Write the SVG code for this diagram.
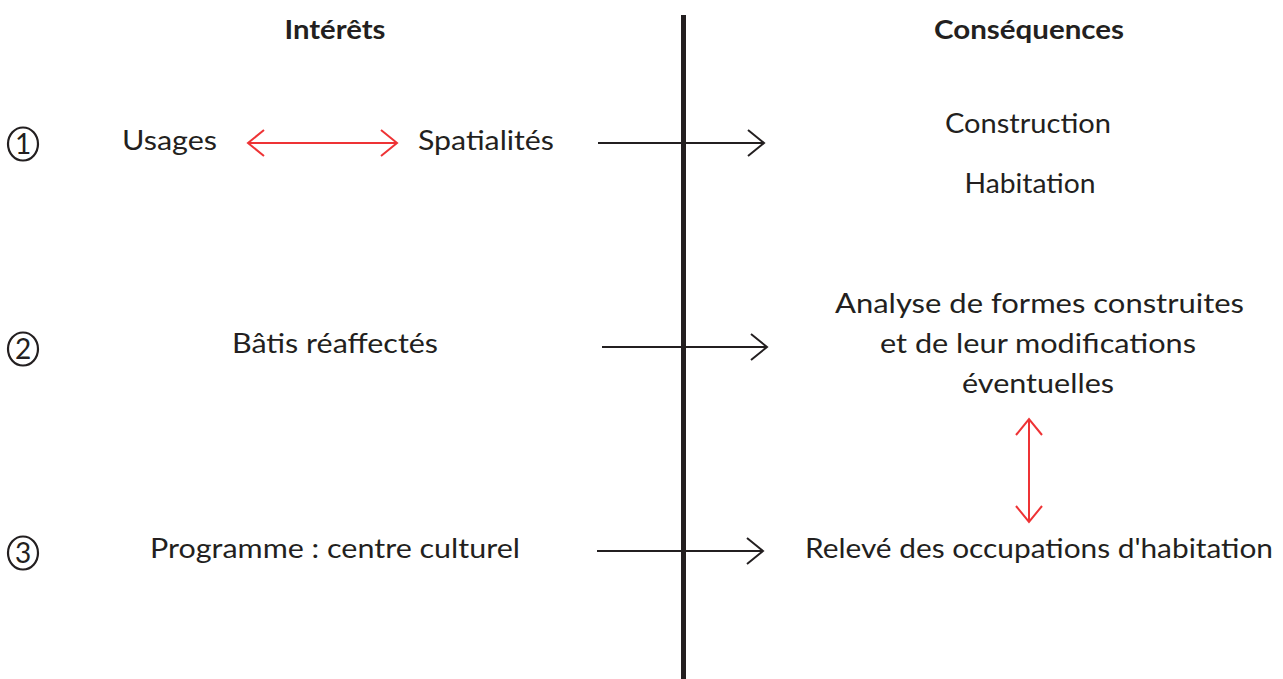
<svg xmlns="http://www.w3.org/2000/svg" width="1283" height="679" viewBox="0 0 1283 679">
<style>
text{font-family:Lato,"Open Sans","Liberation Sans",sans-serif;font-size:27px;fill:#231f20;}
.h{font-weight:bold;}
.m{text-anchor:middle;}
.blk{stroke:#231f20;stroke-width:2;fill:none;}
.red{stroke:#ee3335;stroke-width:2;fill:none;}
.num{stroke:#231f20;stroke-width:2.2;fill:none;}
.dg{font-size:28px;text-anchor:middle;}
</style>
<defs>
<marker id="ab" viewBox="0 0 20 30" refX="18" refY="15" markerWidth="20" markerHeight="30" markerUnits="userSpaceOnUse" orient="auto-start-reverse">
<polyline points="2,2 18,15 2,28" fill="none" stroke="#231f20" stroke-width="2"/>
</marker>
<marker id="ar" viewBox="0 0 20 30" refX="18" refY="15" markerWidth="20" markerHeight="30" markerUnits="userSpaceOnUse" orient="auto-start-reverse">
<polyline points="2,2 18,15 2,28" fill="none" stroke="#ee3335" stroke-width="2"/>
</marker>
</defs>
<rect width="1283" height="679" fill="#ffffff"/>
<g id="divider"><line x1="683.5" y1="15" x2="683.5" y2="679" stroke="#231f20" stroke-width="5"/></g>
<g id="headers">
<text class="h m" x="335" y="39" textLength="101" lengthAdjust="spacingAndGlyphs">Intérêts</text>
<text class="h m" x="1029" y="39" textLength="190" lengthAdjust="spacingAndGlyphs">Conséquences</text>
</g>
<g id="n1"><ellipse class="num" cx="23" cy="144" rx="15" ry="16.5"/><text class="dg" x="23" y="154">1</text></g>
<g id="n2"><ellipse class="num" cx="23" cy="349" rx="15" ry="16.5"/><text class="dg" x="23" y="359">2</text></g>
<g id="n3"><ellipse class="num" cx="23" cy="553" rx="15" ry="16.5"/><text class="dg" x="23" y="563">3</text></g>
<g id="usages"><text x="122" y="150" textLength="95" lengthAdjust="spacingAndGlyphs">Usages</text></g>
<g id="spatialites"><text x="418" y="150" textLength="136" lengthAdjust="spacingAndGlyphs">Spatialités</text></g>
<g id="construction"><text class="m" x="1028" y="133" textLength="166" lengthAdjust="spacingAndGlyphs">Construction</text></g>
<g id="habitation"><text class="m" x="1030" y="193" textLength="131" lengthAdjust="spacingAndGlyphs">Habitation</text></g>
<g id="batis"><text class="m" x="335" y="353" textLength="206" lengthAdjust="spacingAndGlyphs">Bâtis réaffectés</text></g>
<g id="analyse">
<text class="m" x="1039.5" y="313" textLength="409" lengthAdjust="spacingAndGlyphs">Analyse de formes construites</text>
<text class="m" x="1038" y="353" textLength="316" lengthAdjust="spacingAndGlyphs">et de leur modifications</text>
<text class="m" x="1038" y="393" textLength="152" lengthAdjust="spacingAndGlyphs">éventuelles</text>
</g>
<g id="programme"><text class="m" x="335" y="558" textLength="370" lengthAdjust="spacingAndGlyphs">Programme : centre culturel</text></g>
<g id="releve"><text class="m" x="1039" y="558" textLength="468" lengthAdjust="spacingAndGlyphs">Relevé des occupations d'habitation</text></g>
<g id="connectors">
<line class="red" x1="248" y1="143" x2="397" y2="143" marker-start="url(#ar)" marker-end="url(#ar)"/>
<line class="blk" x1="598" y1="143" x2="764" y2="143" marker-end="url(#ab)"/>
<line class="blk" x1="602" y1="347" x2="767" y2="347" marker-end="url(#ab)"/>
<line class="blk" x1="597" y1="551" x2="763" y2="551" marker-end="url(#ab)"/>
<line class="red" x1="1029" y1="419" x2="1029" y2="522" marker-start="url(#ar)" marker-end="url(#ar)"/>
</g>
</svg>
